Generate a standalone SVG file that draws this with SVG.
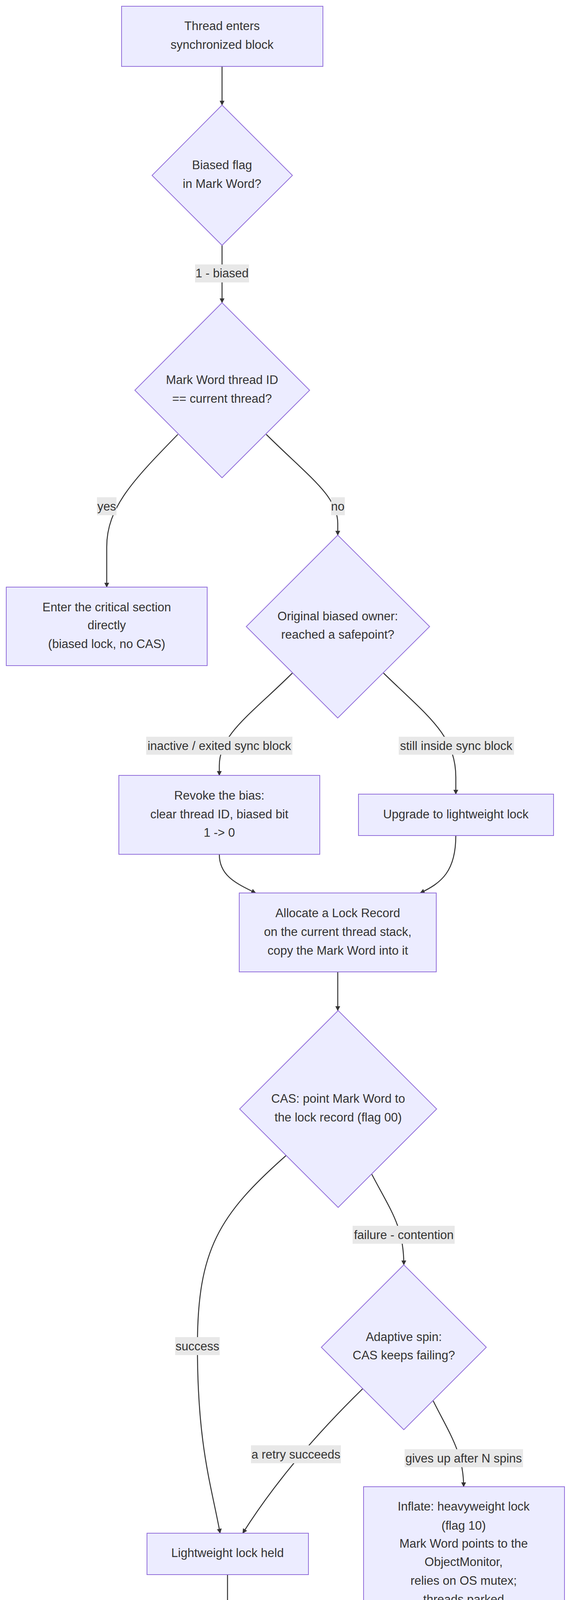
<svg xmlns="http://www.w3.org/2000/svg" width="1476" height="4514" viewBox="0 0 1476 4514">
<style>
.n{fill:#ECECFF;stroke:#9370DB;stroke-width:2}
.t{font-family:"Liberation Sans",Arial,sans-serif;font-size:31px;fill:#333;text-anchor:middle;dominant-baseline:central}
.e{fill:none;stroke:#333;stroke-width:2.5}
.lb{fill:#e8e8e8}
</style>
<defs>
<marker id="a" viewBox="0 0 10 10" refX="9" refY="5" markerWidth="5" markerHeight="5" orient="auto"><path d="M0,0L10,5L0,10z" fill="#333"/></marker>
</defs>
<rect width="1476" height="4514" fill="#fff"/>
<g id="edges">
<path class="e" marker-end="url(#a)" d="M568,170L568,269"/>
<path class="e" marker-end="url(#a)" d="M568,628L568,775"/>
<path class="e" marker-end="url(#a)" d="M455,1112C340,1230 273,1300 273,1400L273,1503"/>
<path class="e" marker-end="url(#a)" d="M681,1112C790,1220 864,1270 864,1340L864,1370"/>
<path class="e" marker-end="url(#a)" d="M748,1723C640,1830 561,1880 561,1960L561,1985"/>
<path class="e" marker-end="url(#a)" d="M981,1723C1090,1830 1166,1880 1166,1990L1166,2033"/>
<path class="e" marker-end="url(#a)" d="M561,2187C561,2240 600,2260 654,2286"/>
<path class="e" marker-end="url(#a)" d="M1166,2139C1166,2230 1130,2260 1075,2286"/>
<path class="e" marker-end="url(#a)" d="M864,2488L864,2587"/>
<path class="e" marker-end="url(#a)" d="M732,2958C560,3110 505,3200 505,3446C505,3700 540,3800 563,3925"/>
<path class="e" marker-end="url(#a)" d="M951,3006C1000,3100 1033,3140 1033,3238"/>
<path class="e" marker-end="url(#a)" d="M928,3555C800,3680 700,3800 621,3925"/>
<path class="e" marker-end="url(#a)" d="M1108,3586C1150,3670 1186,3720 1186,3806"/>
<path class="e" marker-end="url(#a)" d="M582,4031L582,4249"/>
<g id="labels">
<rect class="lb" x="499" y="677" width="138" height="46"/><text class="t" x="568" y="699">1 - biased</text>
<rect class="lb" x="248" y="1273" width="50" height="46"/><text class="t" x="273" y="1296">yes</text>
<rect class="lb" x="847" y="1273" width="35" height="46"/><text class="t" x="864" y="1296">no</text>
<rect class="lb" x="374" y="1886" width="374" height="46"/><text class="t" x="561" y="1909">inactive / exited sync block</text>
<rect class="lb" x="1020" y="1886" width="295" height="46"/><text class="t" x="1167" y="1909">still inside sync block</text>
<rect class="lb" x="902" y="3138" width="261" height="46"/><text class="t" x="1033" y="3161">failure - contention</text>
<rect class="lb" x="448" y="3423" width="114" height="46"/><text class="t" x="505" y="3446">success</text>
<rect class="lb" x="642" y="3700" width="230" height="46"/><text class="t" x="757" y="3723">a retry succeeds</text>
<rect class="lb" x="1035" y="3710" width="303" height="46"/><text class="t" x="1186" y="3733">gives up after N spins</text>
</g>
</g>
<g id="start"><rect class="n" x="311" y="16" width="515" height="154"/><text class="t" x="568" y="66">Thread enters</text><text class="t" x="568" y="114">synchronized block</text></g>
<g id="biasedFlag"><polygon class="n" points="568,269 748,449 568,628 389,449"/><text class="t" x="568" y="422">Biased flag</text><text class="t" x="568" y="470">in Mark Word?</text></g>
<g id="threadId"><polygon class="n" points="568,775 792,999 568,1223 345,999"/><text class="t" x="568" y="972">Mark Word thread ID</text><text class="t" x="568" y="1020">== current thread?</text></g>
<g id="enterDirect"><rect class="n" x="16" y="1503" width="514" height="201"/><text class="t" x="273" y="1554">Enter the critical section</text><text class="t" x="273" y="1600">directly</text><text class="t" x="273" y="1648">(biased lock, no CAS)</text></g>
<g id="safepoint"><polygon class="n" points="864,1370 1099,1604 864,1838 630,1604"/><text class="t" x="864" y="1577">Original biased owner:</text><text class="t" x="864" y="1624">reached a safepoint?</text></g>
<g id="revoke"><rect class="n" x="304" y="1985" width="514" height="202"/><text class="t" x="561" y="2036">Revoke the bias:</text><text class="t" x="561" y="2084">clear thread ID, biased bit</text><text class="t" x="561" y="2131">1 -&gt; 0</text></g>
<g id="upgrade"><rect class="n" x="917" y="2033" width="499" height="106"/><text class="t" x="1166" y="2084">Upgrade to lightweight lock</text></g>
<g id="allocate"><rect class="n" x="612" y="2286" width="504" height="202"/><text class="t" x="864" y="2337">Allocate a Lock Record</text><text class="t" x="864" y="2385">on the current thread stack,</text><text class="t" x="864" y="2433">copy the Mark Word into it</text></g>
<g id="cas"><polygon class="n" points="865,2587 1117,2839 865,3091 613,2839"/><text class="t" x="865" y="2812">CAS: point Mark Word to</text><text class="t" x="865" y="2860">the lock record (flag 00)</text></g>
<g id="spin"><polygon class="n" points="1033,3238 1244,3449 1033,3660 822,3449"/><text class="t" x="1033" y="3422">Adaptive spin:</text><text class="t" x="1033" y="3469">CAS keeps failing?</text></g>
<g id="lightweight"><rect class="n" x="376" y="3925" width="413" height="106"/><text class="t" x="582" y="3975">Lightweight lock held</text></g>
<g id="inflate"><rect class="n" x="930" y="3806" width="514" height="344"/><text class="t" x="1186" y="3856">Inflate: heavyweight lock</text><text class="t" x="1186" y="3905">(flag 10)</text><text class="t" x="1186" y="3951">Mark Word points to the</text><text class="t" x="1186" y="3998">ObjectMonitor,</text><text class="t" x="1186" y="4046">relies on OS mutex;</text><text class="t" x="1186" y="4094">threads parked</text></g>
<g id="unlock"><rect class="n" x="326" y="4249" width="513" height="202"/><text class="t" x="582" y="4300">Unlock: write the saved</text><text class="t" x="582" y="4347">Mark Word back,</text><text class="t" x="582" y="4395">release the lock record</text></g>
</svg>
